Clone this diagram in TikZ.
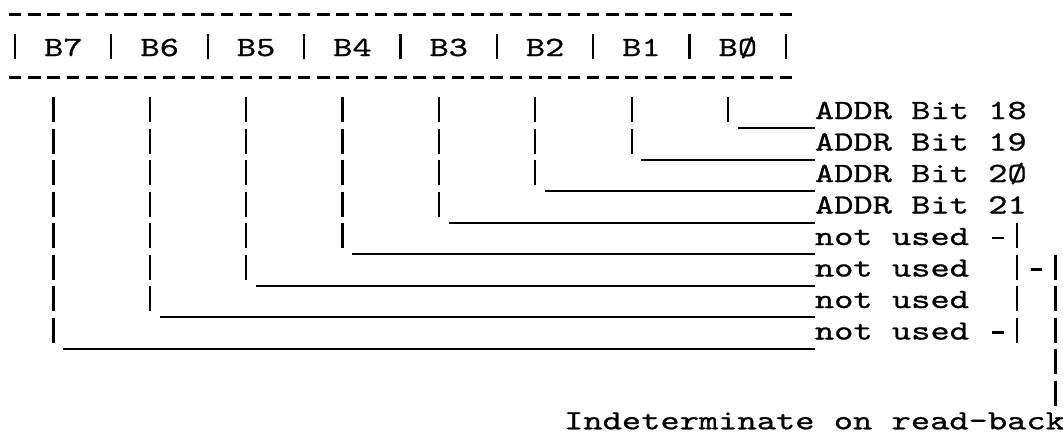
\documentclass[tikz,border=0pt]{standalone}
\usepackage{fontspec}
\setmonofont[FakeStretch=1.32, FakeBold=0.8]{lmmono10-regular.otf}
\usepackage{tikz}
\usetikzlibrary{calc}

\begin{document}
\begin{tikzpicture}[
  x=19.27pt, y=-31.5pt,
  bit/.style={anchor=base west, inner sep=0pt, font=\ttfamily\fontsize{27.8}{31.5}\selectfont},
  lbl/.style={anchor=base west, inner sep=0pt, font=\ttfamily\fontsize{27.8}{31.5}\selectfont},
  hdash/.style={line width=2.5pt, dash pattern=on 12.5pt off 6.77pt},
  vbar/.style={line width=2.2pt, dash pattern=on 25pt off 6.5pt},
  uline/.style={line width=2pt},
  tick/.style={line width=2.2pt}
]
\path[use as bounding box, fill=white] (-0.778,-0.778) rectangle (54.385,13.19);

% register row
\draw[hdash] (-0.325,-0.317) -- (40.5,-0.317);
\draw[hdash] (-0.325,1.683) -- (40.5,1.683);
\draw[vbar] (0,0.302) -- (0,1.095) (5,0.302) -- (5,1.095) (10,0.302) -- (10,1.095)
            (15,0.302) -- (15,1.095) (20,0.302) -- (20,1.095) (25,0.302) -- (25,1.095)
            (30,0.302) -- (30,1.095) (35,0.302) -- (35,1.095) (40,0.302) -- (40,1.095);
\node[bit] (b7) at (1.5,1)  {B7};
\node[bit] (b6) at (6.5,1)  {B6};
\node[bit] (b5) at (11.5,1) {B5};
\node[bit] (b4) at (16.5,1) {B4};
\node[bit] (b3) at (21.5,1) {B3};
\node[bit] (b2) at (26.5,1) {B2};
\node[bit] (b1) at (31.5,1) {B1};
\node[bit] (b0) at (36.5,1) {BØ};

% what each bit drives
\node[lbl] (a18) at (41.5,3)  {ADDR Bit 18};
\node[lbl] (a19) at (41.5,4)  {ADDR Bit 19};
\node[lbl] (a20) at (41.5,5)  {ADDR Bit 2Ø};
\node[lbl] (a21) at (41.5,6)  {ADDR Bit 21};
\node[lbl] (nu4) at (41.5,7)  {not used};
\node[lbl] (nu5) at (41.5,8)  {not used};
\node[lbl] (nu6) at (41.5,9)  {not used};
\node[lbl] (nu7) at (41.5,10) {not used};
\node[lbl, anchor=base east] (note) at (54.5,12.85) {Indeterminate on read-back};

\draw[vbar]  ($(b0.base west)+(0.5,1.302)$) -- ($(b0.base west |- a18.base)+(0.5,0.095)$);
\draw[uline] ($(b0.base west |- a18.base)+(1,0.286)$) -- ($(a18.base west)+(0,0.286)$);
\draw[vbar]  ($(b1.base west)+(0.5,1.302)$) -- ($(b1.base west |- a19.base)+(0.5,0.095)$);
\draw[uline] ($(b1.base west |- a19.base)+(1,0.286)$) -- ($(a19.base west)+(0,0.286)$);
\draw[vbar]  ($(b2.base west)+(0.5,1.302)$) -- ($(b2.base west |- a20.base)+(0.5,0.095)$);
\draw[uline] ($(b2.base west |- a20.base)+(1,0.286)$) -- ($(a20.base west)+(0,0.286)$);
\draw[vbar]  ($(b3.base west)+(0.5,1.302)$) -- ($(b3.base west |- a21.base)+(0.5,0.095)$);
\draw[uline] ($(b3.base west |- a21.base)+(1,0.286)$) -- ($(a21.base west)+(0,0.286)$);
\draw[vbar]  ($(b4.base west)+(0.5,1.302)$) -- ($(b4.base west |- nu4.base)+(0.5,0.095)$);
\draw[uline] ($(b4.base west |- nu4.base)+(1,0.286)$) -- ($(nu4.base west)+(0,0.286)$);
\draw[vbar]  ($(b5.base west)+(0.5,1.302)$) -- ($(b5.base west |- nu5.base)+(0.5,0.095)$);
\draw[uline] ($(b5.base west |- nu5.base)+(1,0.286)$) -- ($(nu5.base west)+(0,0.286)$);
\draw[vbar]  ($(b6.base west)+(0.5,1.302)$) -- ($(b6.base west |- nu6.base)+(0.5,0.095)$);
\draw[uline] ($(b6.base west |- nu6.base)+(1,0.286)$) -- ($(nu6.base west)+(0,0.286)$);
\draw[vbar]  ($(b7.base west)+(0.5,1.302)$) -- ($(b7.base west |- nu7.base)+(0.5,0.095)$);
\draw[uline] ($(b7.base west |- nu7.base)+(1,0.286)$) -- ($(nu7.base west)+(0,0.286)$);

% bracket over the unused bits
\draw[tick] ($(nu4.base west)+(9.2,-0.22)$) -- ($(nu4.base west)+(9.8,-0.22)$);
\draw[tick] ($(nu7.base west)+(9.2,-0.22)$) -- ($(nu7.base west)+(9.8,-0.22)$);
\draw[vbar] ($(nu4.base west)+(10.5,-0.698)$) -- ($(nu7.base west)+(10.5,0.095)$);
\draw[tick] ($(nu5.base west)+(11.2,-0.22)$) -- ($(nu5.base west)+(11.8,-0.22)$);
\draw[vbar] ($(nu5.base west)+(12.5,-0.698)$) -- ($(nu7.base west)+(12.5,2.095)$);
\end{tikzpicture}
\end{document}
